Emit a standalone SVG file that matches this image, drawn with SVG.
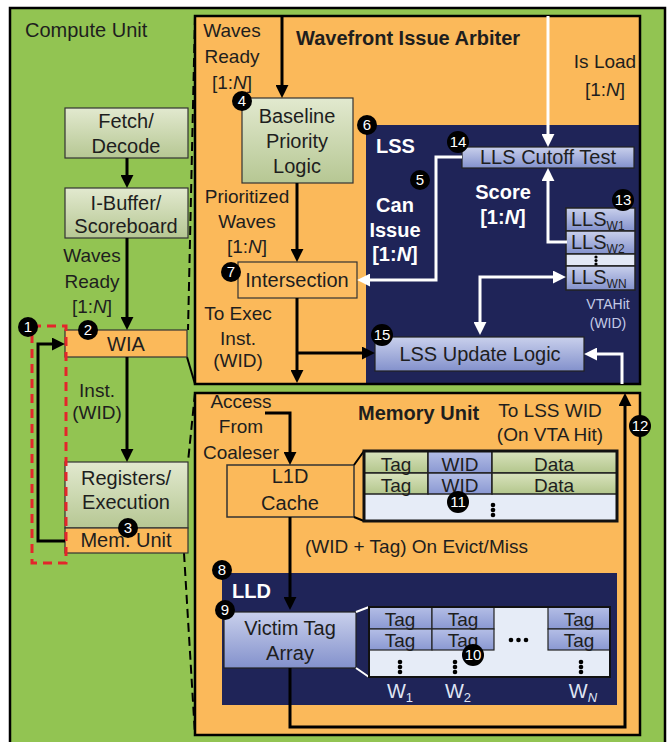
<svg xmlns="http://www.w3.org/2000/svg" width="672" height="742" viewBox="0 0 672 742">
<defs>
<linearGradient id="gGreen" x1="0" y1="0" x2="0" y2="1"><stop offset="0" stop-color="#e2e9cf"/><stop offset="1" stop-color="#b6c793"/></linearGradient>
<linearGradient id="gBlue" x1="0" y1="0" x2="0" y2="1"><stop offset="0" stop-color="#c9d0ec"/><stop offset="1" stop-color="#8391cc"/></linearGradient>
<linearGradient id="gCell" x1="0" y1="0" x2="0" y2="1"><stop offset="0" stop-color="#d9e3bd"/><stop offset="1" stop-color="#b3c68c"/></linearGradient>
<linearGradient id="gCellB" x1="0" y1="0" x2="0" y2="1"><stop offset="0" stop-color="#b4bee6"/><stop offset="1" stop-color="#8a98d2"/></linearGradient>
<marker id="ab" viewBox="0 0 10 10" refX="7" refY="5" markerWidth="13" markerHeight="13" markerUnits="userSpaceOnUse" orient="auto"><path d="M0,0 L10,5 L0,10 z" fill="#000"/></marker>
<marker id="aw" viewBox="0 0 10 10" refX="7" refY="5" markerWidth="13" markerHeight="13" markerUnits="userSpaceOnUse" orient="auto-start-reverse"><path d="M0,0 L10,5 L0,10 z" fill="#fff"/></marker>
</defs>
<style>
text{font-family:"Liberation Sans",Arial,sans-serif;font-size:20px;fill:#1e1e1e}
.c{text-anchor:middle}
.b{font-weight:bold}
.w{fill:#fff}
.lbl{font-size:19px}
.bx{stroke:#333;stroke-width:1.2}
.cl{fill:none;stroke:#000;stroke-width:3}
.cw{fill:none;stroke:#fff;stroke-width:3}
.bd circle{fill:#000}
.bd text{fill:#fff;font-size:15px;text-anchor:middle}
.dash{fill:none;stroke:#000;stroke-width:2;stroke-dasharray:9,5}
.dot{fill:#000}
.vt{fill:#c3cae6;font-size:14px}
</style>
<!-- outer -->
<rect x="0" y="0" width="672" height="742" fill="#fff"/>
<rect id="compute-unit" x="10" y="8" width="655" height="745" fill="#92c452" stroke="#000" stroke-width="2.5"/>
<text x="25" y="37">Compute Unit</text>

<!-- zoom lines -->
<g id="zoom-lines">
<path class="dash" d="M195,16 L188,330"/>
<path fill="none" stroke="#000" stroke-width="2" d="M187,357 L195,384"/>
<path class="dash" d="M195,393 L188,462"/>
<path class="dash" d="M184,553 L195,735"/>
</g>

<!-- left pipeline -->
<g id="fetch"><rect class="bx" x="65" y="108" width="123" height="50" fill="url(#gGreen)"/><text class="c" x="126" y="128">Fetch/</text><text class="c" x="126" y="153">Decode</text></g>
<g id="ibuffer"><rect class="bx" x="65" y="188" width="123" height="50" fill="url(#gGreen)"/><text class="c" x="126" y="210">I-Buffer/</text><text class="c" x="126" y="233">Scoreboard</text></g>
<g id="wia"><rect class="bx" x="65" y="330" width="122" height="27" fill="#fbb95a"/><text class="c" x="126" y="351">WIA</text></g>
<g id="registers"><rect class="bx" x="65" y="462" width="123" height="66" fill="url(#gGreen)"/><text class="c" x="126" y="485">Registers/</text><text class="c" x="126" y="509">Execution</text></g>
<g id="memunit-small"><rect class="bx" x="65" y="528" width="123" height="25" fill="#fbb95a"/><text class="c" x="126" y="547">Mem. Unit</text></g>
<rect id="red-box" x="32" y="326" width="34" height="237" fill="none" stroke="#e3262b" stroke-width="3" stroke-dasharray="9,6"/>
<text class="c lbl" x="92" y="262">Waves</text>
<text class="c lbl" x="92" y="288">Ready</text>
<text class="c lbl" x="92" y="313">[1:<tspan font-style="italic">N</tspan>]</text>
<text class="c lbl" x="97" y="397">Inst.</text>
<text class="c lbl" x="97" y="419">(WID)</text>

<!-- WIA panel -->
<g id="wia-panel">
<rect x="195" y="16" width="445" height="368" fill="#fbb95a"/>
<rect x="366" y="125" width="274" height="259" fill="#1f2458"/>
<rect x="195" y="16" width="445" height="368" fill="none" stroke="#000" stroke-width="2.5"/>
<text class="b" x="296" y="45" font-size="19">Wavefront Issue Arbiter</text>
<text class="c lbl" x="232" y="37">Waves</text>
<text class="c lbl" x="232" y="63">Ready</text>
<text class="c lbl" x="232" y="89">[1:<tspan font-style="italic">N</tspan>]</text>
<text class="c lbl" x="605" y="68">Is Load</text>
<text class="c lbl" x="605" y="96">[1:<tspan font-style="italic">N</tspan>]</text>
<text class="c lbl" x="247" y="203">Prioritized</text>
<text class="c lbl" x="247" y="228">Waves</text>
<text class="c lbl" x="247" y="253">[1:<tspan font-style="italic">N</tspan>]</text>
<text class="c lbl" x="238" y="320">To Exec</text>
<text class="c lbl" x="238" y="345">Inst.</text>
<text class="c lbl" x="238" y="367">(WID)</text>
<text class="b w" x="376" y="153" font-size="19">LSS</text>
<text class="c b w" x="395" y="212">Can</text>
<text class="c b w" x="395" y="237">Issue</text>
<text class="c b w" x="395" y="261">[1:<tspan font-style="italic">N</tspan>]</text>
<text class="c b w" x="503" y="199">Score</text>
<text class="c b w" x="503" y="224">[1:<tspan font-style="italic">N</tspan>]</text>
<text class="c vt" x="608" y="309">VTAHit</text>
<text class="c vt" x="608" y="328">(WID)</text>
</g>
<g id="baseline"><rect class="bx" x="242" y="98" width="111" height="85" fill="url(#gGreen)"/><text class="c" x="297" y="123">Baseline</text><text class="c" x="297" y="148">Priority</text><text class="c" x="297" y="173">Logic</text></g>
<g id="intersection"><rect class="bx" x="238" y="262" width="119" height="36" fill="#fdbd62"/><text class="c" x="297" y="287">Intersection</text></g>
<g id="cutoff"><rect x="462" y="147" width="172" height="21" fill="url(#gBlue)" stroke="#222" stroke-width="1.2"/><text class="c" x="548" y="164">LLS Cutoff Test</text></g>
<g id="lls-stack">
<rect x="566" y="208" width="69" height="23" fill="url(#gBlue)" stroke="#222" stroke-width="1.5"/>
<rect x="566" y="231" width="69" height="23" fill="url(#gBlue)" stroke="#222" stroke-width="1.5"/>
<rect x="566" y="254" width="69" height="12" fill="#e3e8f5" stroke="#222" stroke-width="1.5"/>
<rect x="566" y="266" width="69" height="24" fill="url(#gBlue)" stroke="#222" stroke-width="1.5"/>
<text x="571" y="226" font-size="18">LLS<tspan font-size="12" dy="4">W1</tspan></text>
<text x="571" y="249" font-size="18">LLS<tspan font-size="12" dy="4">W2</tspan></text>
<text x="571" y="284" font-size="18">LLS<tspan font-size="12" dy="4">WN</tspan></text>
<circle class="dot" cx="596" cy="257" r="1.6"/><circle class="dot" cx="596" cy="260.5" r="1.6"/><circle class="dot" cx="596" cy="264" r="1.6"/>
</g>
<g id="lss-update"><rect x="375" y="337" width="209" height="34" fill="url(#gBlue)" stroke="#222" stroke-width="1.2"/><text class="c" x="480" y="361">LSS Update Logic</text></g>

<!-- Memory panel -->
<g id="mem-panel">
<rect x="195" y="393" width="445" height="342" fill="#fbb95a" stroke="#000" stroke-width="2.5"/>
<text class="b" x="358" y="420" font-size="19">Memory Unit</text>
<text class="c lbl" x="550" y="417">To LSS WID</text>
<text class="c lbl" x="550" y="441">(On VTA Hit)</text>
<text class="c lbl" x="241" y="408">Access</text>
<text class="c lbl" x="241" y="433">From</text>
<text class="c lbl" x="241" y="459">Coaleser</text>
<text class="lbl" x="305" y="553">(WID + Tag) On Evict/Miss</text>
</g>
<g id="l1d"><rect x="227" y="465" width="127" height="52" fill="#fbb95a" stroke="#333" stroke-width="1.5"/><text class="c" x="290" y="483">L1D</text><text class="c" x="290" y="510">Cache</text></g>
<g id="cache-table">
<path d="M354,465 L364,451 M354,517 L364,521" stroke="#000" stroke-width="2"/>
<rect x="364" y="451" width="253" height="70" fill="#e6ecf7"/>
<rect x="364" y="451" width="64" height="22" fill="url(#gCell)" stroke="#222" stroke-width="1.5"/>
<rect x="428" y="451" width="64" height="22" fill="url(#gCellB)" stroke="#222" stroke-width="1.5"/>
<rect x="492" y="451" width="125" height="22" fill="url(#gCell)" stroke="#222" stroke-width="1.5"/>
<rect x="364" y="473" width="64" height="21" fill="url(#gCell)" stroke="#222" stroke-width="1.5"/>
<rect x="428" y="473" width="64" height="21" fill="url(#gCellB)" stroke="#222" stroke-width="1.5"/>
<rect x="492" y="473" width="125" height="21" fill="url(#gCell)" stroke="#222" stroke-width="1.5"/>
<rect x="364" y="451" width="253" height="70" fill="none" stroke="#111" stroke-width="3"/>
<text class="c lbl" x="396" y="471">Tag</text><text class="c lbl" x="460" y="471">WID</text><text class="c lbl" x="554" y="471">Data</text>
<text class="c lbl" x="396" y="492">Tag</text><text class="c lbl" x="460" y="492">WID</text><text class="c lbl" x="554" y="492">Data</text>
<circle class="dot" cx="493" cy="505" r="2.3"/><circle class="dot" cx="493" cy="510" r="2.3"/><circle class="dot" cx="493" cy="515" r="2.3"/>
</g>
<g id="lld">
<rect x="222" y="573" width="395" height="132" fill="#1f2458"/>
<text class="b w" x="232" y="598" font-size="19">LLD</text>
</g>
<g id="vta"><rect x="224" y="612" width="132" height="56" fill="url(#gBlue)" stroke="#222" stroke-width="1.2"/><text class="c" x="290" y="635">Victim Tag</text><text class="c" x="290" y="660">Array</text></g>
<g id="tag-array">
<path d="M356,612 L369,607 M356,668 L369,677" stroke="#fff" stroke-width="2"/>
<rect x="369" y="607" width="241" height="70" fill="#e6ecf7"/>
<rect x="369" y="607" width="63" height="22" fill="url(#gCellB)" stroke="#222" stroke-width="1.2"/>
<rect x="432" y="607" width="62" height="22" fill="url(#gCellB)" stroke="#222" stroke-width="1.2"/>
<rect x="548" y="607" width="62" height="22" fill="url(#gCellB)" stroke="#222" stroke-width="1.2"/>
<rect x="369" y="629" width="63" height="21" fill="url(#gCellB)" stroke="#222" stroke-width="1.2"/>
<rect x="432" y="629" width="62" height="21" fill="url(#gCellB)" stroke="#222" stroke-width="1.2"/>
<rect x="548" y="629" width="62" height="21" fill="url(#gCellB)" stroke="#222" stroke-width="1.2"/>
<rect x="369" y="607" width="241" height="70" fill="none" stroke="#111" stroke-width="2"/>
<text class="c lbl" x="400" y="626">Tag</text><text class="c lbl" x="463" y="626">Tag</text><text class="c lbl" x="579" y="626">Tag</text>
<text class="c lbl" x="400" y="647">Tag</text><text class="c lbl" x="463" y="647">Tag</text><text class="c lbl" x="579" y="647">Tag</text>
<circle class="dot" cx="511" cy="640" r="2.3"/><circle class="dot" cx="518.5" cy="640" r="2.3"/><circle class="dot" cx="526" cy="640" r="2.3"/>
<circle class="dot" cx="400" cy="662" r="2.3"/><circle class="dot" cx="400" cy="667" r="2.3"/><circle class="dot" cx="400" cy="672" r="2.3"/>
<circle class="dot" cx="455" cy="662" r="2.3"/><circle class="dot" cx="455" cy="667" r="2.3"/><circle class="dot" cx="455" cy="672" r="2.3"/>
<circle class="dot" cx="581" cy="662" r="2.3"/><circle class="dot" cx="581" cy="667" r="2.3"/><circle class="dot" cx="581" cy="672" r="2.3"/>
<text class="c" x="400" y="698" style="fill:#dfe4f4">W<tspan font-size="13" dy="4">1</tspan></text>
<text class="c" x="458" y="698" style="fill:#dfe4f4">W<tspan font-size="13" dy="4">2</tspan></text>
<text class="c" x="583" y="698" style="fill:#dfe4f4">W<tspan font-size="13" dy="4" font-style="italic">N</tspan></text>
</g>

<!-- connectors -->
<g id="connectors">
<path class="cl" marker-end="url(#ab)" d="M127,158 V184"/>
<path class="cl" marker-end="url(#ab)" d="M127,238 V326"/>
<path class="cl" marker-end="url(#ab)" d="M127,357 V458"/>
<path class="cl" marker-end="url(#ab)" d="M65,541 H38 V344 H61"/>
<path class="cl" marker-end="url(#ab)" d="M282,16 V94"/>
<path class="cl" marker-end="url(#ab)" d="M297,183 V258"/>
<path class="cl" marker-end="url(#ab)" d="M297,298 V379"/>
<path class="cl" marker-end="url(#ab)" d="M297,353 H371"/>
<path class="cl" marker-end="url(#ab)" d="M265,413 H290 V461"/>
<path class="cl" marker-end="url(#ab)" d="M290,517 V606"/>
<path class="cl" marker-end="url(#ab)" d="M290,668 V727 H625 V397"/>
<path class="cw" marker-end="url(#aw)" d="M548,16 V143"/>
<path class="cw" marker-end="url(#aw)" d="M462,157 H436 V280 H361"/>
<path class="cw" marker-end="url(#aw)" d="M567,242 H548 V172"/>
<path class="cw" marker-start="url(#aw)" marker-end="url(#aw)" d="M562,277 H480 V331"/>
<path class="cw" marker-end="url(#aw)" d="M622,384 V354 H588"/>
</g>

<!-- badges -->
<g id="badges" class="bd">
<g id="b1"><circle cx="28" cy="327" r="10"/><text x="28" y="332">1</text></g>
<g id="b2"><circle cx="88" cy="330" r="10"/><text x="88" y="335">2</text></g>
<g id="b3"><circle cx="128" cy="528" r="10"/><text x="128" y="533">3</text></g>
<g id="b4"><circle cx="242" cy="101" r="10"/><text x="242" y="106">4</text></g>
<g id="b5"><circle cx="420" cy="180" r="10"/><text x="420" y="185">5</text></g>
<g id="b6"><circle cx="367" cy="125" r="10"/><text x="367" y="130">6</text></g>
<g id="b7"><circle cx="231" cy="272" r="10"/><text x="231" y="277">7</text></g>
<g id="b8"><circle cx="222" cy="570" r="10"/><text x="222" y="575">8</text></g>
<g id="b9"><circle cx="225" cy="610" r="10"/><text x="225" y="615">9</text></g>
<g id="b10"><circle cx="473" cy="655" r="11"/><text x="473" y="660">10</text></g>
<g id="b11"><circle cx="458" cy="502" r="11"/><text x="458" y="507">11</text></g>
<g id="b12"><circle cx="640" cy="426" r="11"/><text x="640" y="431">12</text></g>
<g id="b13"><circle cx="623" cy="200" r="11"/><text x="623" y="205">13</text></g>
<g id="b14"><circle cx="458" cy="142" r="11"/><text x="458" y="147">14</text></g>
<g id="b15"><circle cx="382" cy="335" r="11"/><text x="382" y="340">15</text></g>
</g>
</svg>
